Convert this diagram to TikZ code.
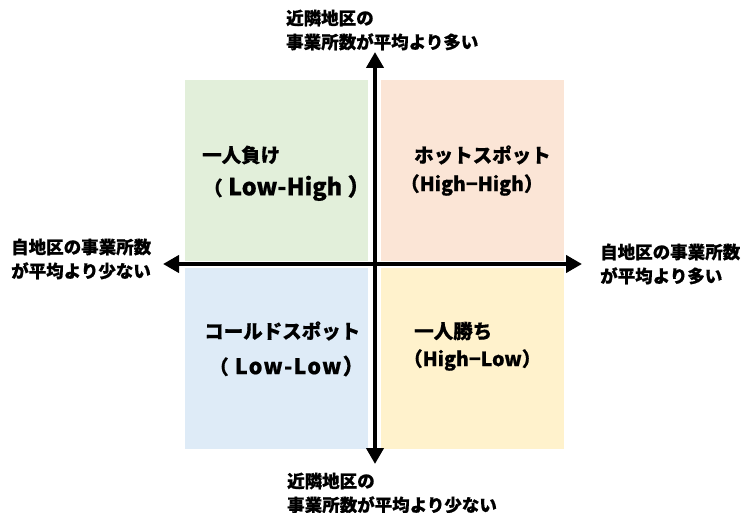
\documentclass[tikz,border=0pt]{standalone}
\usepackage{fontspec}
\setmainfont{Noto Sans CJK JP}[BoldFeatures={FakeBold=0.6}]
\usetikzlibrary{arrows.meta}
\definecolor{qgreen}{HTML}{E2EFDA}
\definecolor{qorange}{HTML}{FBE5D6}
\definecolor{qblue}{HTML}{DEEBF7}
\definecolor{qyellow}{HTML}{FFF2CC}
\tikzset{
  quad/.style={draw=none, anchor=north west, inner sep=0pt, minimum width=183pt, minimum height=181pt},
  axis/.style={line width=4.5pt, -{Triangle[length=16pt,width=17pt]}},
  lbl/.style={anchor=west, align=left, inner sep=0pt, font=\fontsize{17.5}{24}\selectfont\bfseries},
  qtxt/.style={anchor=west, inner sep=0pt, font=\fontsize{19.5}{24}\selectfont\bfseries}
}
\begin{document}
\begin{tikzpicture}[x=1pt,y=-1pt]
\useasboundingbox[fill=white] (0,0) rectangle (747,513);
\node[quad, fill=qgreen] (qg) at (185,80) {};
\node[quad, fill=qorange] (qo) at (381,80) {};
\node[quad, fill=qblue] (qb) at (185,268) {};
\node[quad, fill=qyellow] (qy) at (381,268) {};
\coordinate (vtop) at (375,52);
\coordinate (vbot) at (375,464);
\coordinate (hl) at (163,264);
\coordinate (hr) at (582,264);
\coordinate (c) at (375,264);
\draw[axis] (c) -- (vtop);
\draw[axis] (c) -- (vbot);
\draw[axis] (c) -- (hl);
\draw[axis] (c) -- (hr);
\node[lbl] (top) at (286,30) {近隣地区の\\事業所数が平均より多い};
\node[lbl] (bot) at (287,493) {近隣地区の\\事業所数が平均より少ない};
\node[lbl] (left) at (11,259) {自地区の事業所数\\が平均より少ない};
\node[lbl] (right) at (600,264) {自地区の事業所数\\が平均より多い};
\node[qtxt] (t1) at (202,155) {一人負け};
\node[qtxt] (t1b) at (203,188) {（\fontsize{23.5}{24}\selectfont\ Low-High\ ）};
\node[qtxt] (t2) at (414,155) {ホットスポット};
\node[qtxt] (t2b) at (400,185) {（High−High）};
\node[qtxt] (t3) at (204,331) {コールドスポット};
\node[qtxt] (t3b) at (209,366) {（\addfontfeatures{LetterSpace=6}\fontsize{21.5}{24}\selectfont\ Low-Low）};
\node[qtxt] (t4) at (414,331) {一人勝ち};
\node[qtxt] (t4b) at (403,360) {（High−Low）};
\end{tikzpicture}
\end{document}
